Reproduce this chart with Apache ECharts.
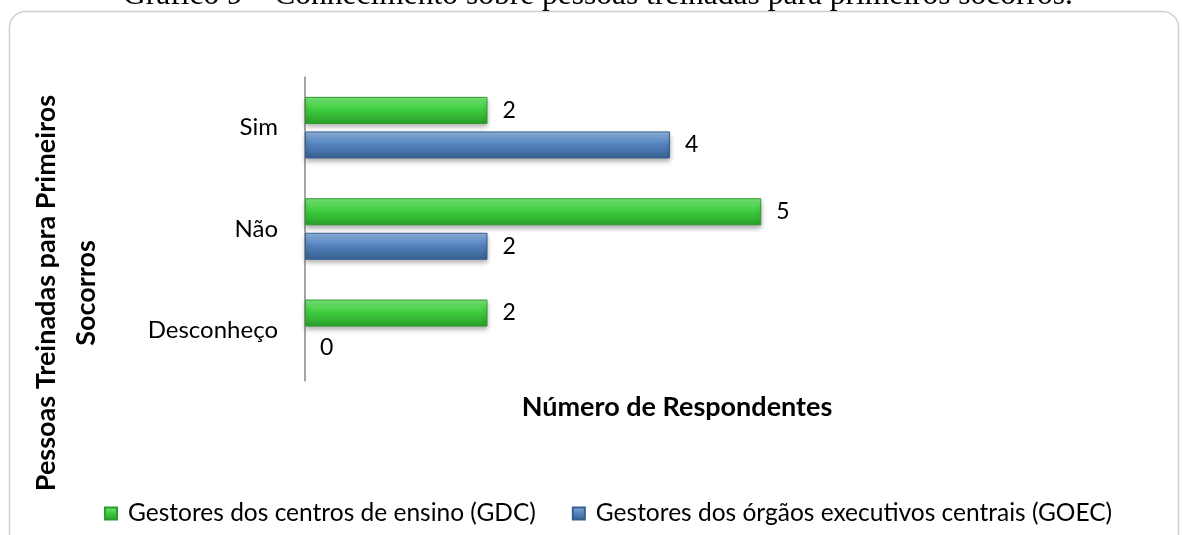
<!DOCTYPE html>
<html>
<head>
<meta charset="utf-8">
<script src="https://cdn.jsdelivr.net/npm/echarts@6/dist/echarts.min.js"></script>
<style>
    html, body { margin: 0; padding: 0; background: #fff; }
    #main { width: 1182px; height: 535px; }
</style>
</head>
<body>
<div id="main"></div>
<script>
    // values
    const categories = ['Sim', 'Não', 'Desconheço'];
    const gdcValues = [2, 5, 2];
    const goecValues = [4, 2, 0];
    const seriesNames = [
        'Gestores dos centros de ensino (GDC)',
        'Gestores dos órgãos executivos centrais (GOEC)'
    ];
    const chartTitle = 'Gráfico 9 – Conhecimento sobre pessoas treinadas para primeiros socorros.';
    const xAxisName = 'Número de Respondentes';
    const yAxisName = 'Pessoas Treinadas para Primeiros\nSocorros';

    var chartDom = document.getElementById('main');
    var myChart = echarts.init(chartDom);

    const font = 'Lato';

    function barStyle(top, mid, bottom, border) {
        return {
            color: new echarts.graphic.LinearGradient(0, 0, 0, 1, [
                { offset: 0, color: top },
                { offset: 0.45, color: mid },
                { offset: 1, color: bottom }
            ]),
            borderColor: border,
            borderWidth: 1,
            shadowColor: 'rgba(0, 0, 0, 0.35)',
            shadowBlur: 5,
            shadowOffsetY: 3
        };
    }

    // a zero bar has no visible outline in the original
    function toBarData(values) {
        return values.map(function (v) {
            return v === 0 ? { value: v, itemStyle: { borderWidth: 0, shadowBlur: 0 } } : v;
        });
    }

    const valueLabel = {
        show: true,
        position: 'right',
        distance: 15,
        color: '#000',
        fontFamily: font,
        fontSize: 23
    };

    var option = {
        animation: false,
        title: {
            text: chartTitle,
            left: 118,
            top: -25,
            textStyle: {
                fontFamily: 'Liberation Serif',
                fontWeight: 'normal',
                fontSize: 31.5,
                color: '#000'
            }
        },
        graphic: [{
            type: 'rect',
            shape: { x: 9.5, y: 11.5, width: 1169, height: 540, r: 16 },
            style: { fill: 'none', stroke: '#cfcfcf', lineWidth: 1.5 },
            silent: true
        }],
        legend: {
            left: 99,
            top: 496,
            itemWidth: 12,
            itemHeight: 12,
            itemGap: 36,
            icon: 'rect',
            textStyle: {
                fontFamily: font,
                fontSize: 24.5,
                color: '#000',
                padding: [0, 0, 0, 6]
            },
            data: seriesNames
        },
        grid: {
            left: 305,
            right: 147,
            top: 77,
            height: 304,
            containLabel: false,
            outerBoundsMode: 'none'
        },
        xAxis: {
            type: 'value',
            min: 0,
            max: 8,
            axisLine: { show: false },
            axisTick: { show: false },
            axisLabel: { show: false },
            splitLine: { show: false },
            name: xAxisName,
            nameLocation: 'middle',
            nameGap: 13,
            nameTextStyle: {
                fontFamily: font,
                fontWeight: 'bold',
                fontSize: 27,
                color: '#000',
                padding: [0, 0, 0, 14]
            }
        },
        yAxis: {
            type: 'category',
            inverse: true,
            data: categories,
            axisLine: { lineStyle: { color: '#878787', width: 1.5 } },
            axisTick: { show: false },
            axisLabel: {
                margin: 27,
                color: '#000',
                fontFamily: font,
                fontSize: 24
            },
            name: yAxisName,
            nameLocation: 'middle',
            nameRotate: 90,
            nameGap: 199,
            nameTextStyle: {
                fontFamily: font,
                fontWeight: 'bold',
                fontSize: 27,
                lineHeight: 40,
                color: '#000',
                align: 'center',
                padding: [0, 128, 0, 0]
            }
        },
        series: [
            {
                name: seriesNames[0],
                type: 'bar',
                data: toBarData(gdcValues),
                barWidth: 27,
                barGap: '28%',
                itemStyle: barStyle('#7cea7c', '#3fce3f', '#2aa02a', '#2f9a2f'),
                label: valueLabel
            },
            {
                name: seriesNames[1],
                type: 'bar',
                data: toBarData(goecValues),
                barWidth: 27,
                barGap: '28%',
                itemStyle: barStyle('#93b7e3', '#5584c0', '#36608f', '#365f8e'),
                label: valueLabel
            }
        ]
    };

    myChart.setOption(option);
</script>
</body>
</html>
